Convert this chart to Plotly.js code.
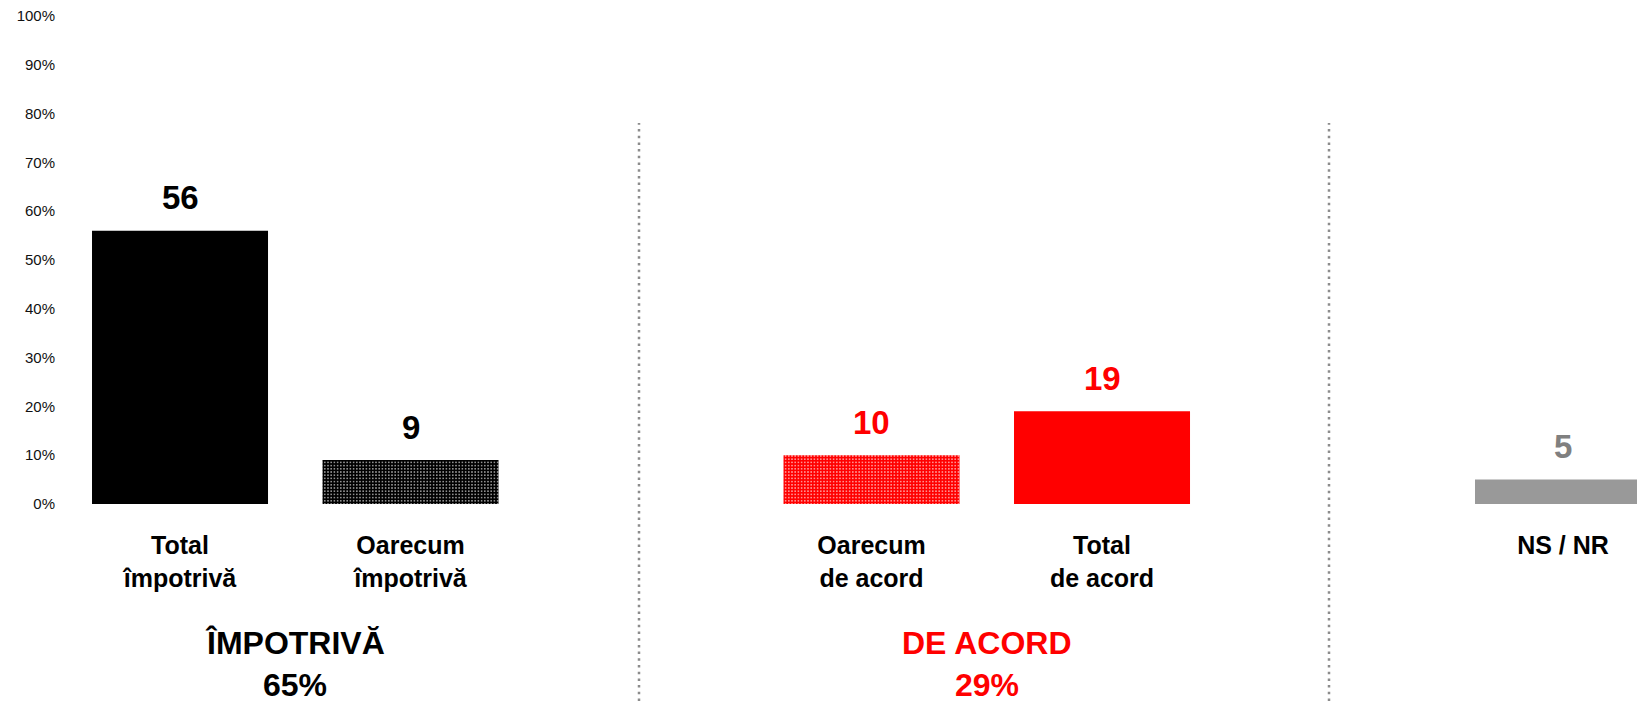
<!DOCTYPE html>
<html>
<head>
<meta charset="utf-8">
<script src="https://cdn.plot.ly/plotly-3.0.1.min.js"></script>
<style>html,body{margin:0;padding:0;background:#fff;}#chart{width:1637px;height:701px;}</style>
</head>
<body>
<div id="chart"></div>
<script>
// ---- data ----
const categories = ['Total<br>împotrivă', 'Oarecum<br>împotrivă', 'Oarecum<br>de acord', 'Total<br>de acord', 'NS / NR'];
const values = [56, 9, 10, 19, 5];
const valueLabels = ['56', '9', '10', '19', '5'];
const groupNames = ['ÎMPOTRIVĂ', 'DE ACORD'];
const groupTotals = ['65%', '29%'];
const yTickValues = [0, 10, 20, 30, 40, 50, 60, 70, 80, 90, 100];
const yTickLabels = ['0%', '10%', '20%', '30%', '40%', '50%', '60%', '70%', '80%', '90%', '100%'];

// ---- styles ----
const barColors = ['#000000', '#000000', '#ff0000', '#ff0000', '#999999'];
const patternShapes = ['', '.', '.', '', ''];
const labelColors = ['#000000', '#000000', '#ff0000', '#ff0000', '#808080'];
const groupColors = ['#000000', '#ff0000'];
const groupCenters = [0.5, 3.5];
const categoryOrder = [categories[0], categories[1], ' ', categories[2], categories[3], '  ', categories[4]];

const W = 1637, H = 701;
const font = 'Arial, "Liberation Sans", sans-serif';

const trace = {
  type: 'bar',
  x: categories,
  y: values,
  width: 0.7636,
  marker: {
    color: barColors,
    line: {width: 0},
    pattern: {
      shape: patternShapes,
      fillmode: 'overlay',
      fgcolor: '#ffffff',
      fgopacity: 0.75,
      size: 3.2,
      solidity: 0.2
    }
  },
  hoverinfo: 'none'
};

const annotations = [];
categories.forEach((c, i) => {
  annotations.push({
    x: c, y: values[i], xref: 'x', yref: 'y',
    text: '<b>' + valueLabels[i] + '</b>',
    showarrow: false, yanchor: 'middle', yshift: 33,
    font: {family: font, size: 33, color: labelColors[i]}
  });
});
groupNames.forEach((g, i) => {
  annotations.push({
    x: groupCenters[i], xref: 'x', y: (H - 643) / H, yref: 'paper',
    text: '<b>' + g + '</b>',
    showarrow: false, yanchor: 'middle',
    font: {family: font, size: 32, color: groupColors[i]}
  });
  annotations.push({
    x: groupCenters[i], xref: 'x', y: (H - 685) / H, yref: 'paper',
    text: '<b>' + groupTotals[i] + '</b>',
    showarrow: false, yanchor: 'middle',
    font: {family: font, size: 32, color: groupColors[i]}
  });
});

const sepY1 = (H - 123) / H;
const shapes = [639, 1329].map(px => ({
  type: 'line', xref: 'paper', yref: 'paper',
  x0: px / W, x1: px / W, y0: 0, y1: sepY1,
  line: {color: '#8c8c8c', width: 2.5, dash: '2.5px,4.2px'}
}));

const layout = {
  width: W, height: H,
  margin: {l: 0, r: 0, t: 0, b: 0},
  paper_bgcolor: '#ffffff', plot_bgcolor: 'rgba(0,0,0,0)',
  showlegend: false,
  xaxis: {
    type: 'category',
    categoryorder: 'array',
    categoryarray: categoryOrder,
    range: [-0.781, 6.321],
    showgrid: false, zeroline: false, showline: false,
    ticks: '',
    ticklabelstandoff: 24,
    tickfont: {family: font, size: 25, color: '#000000', weight: 700},
    fixedrange: true
  },
  yaxis: {
    range: [0, 100],
    domain: [(H - 504) / H, (H - 16) / H],
    anchor: 'free', position: 55 / W,
    tickvals: yTickValues, ticktext: yTickLabels,
    showgrid: false, zeroline: false, showline: false,
    ticks: '',
    tickfont: {family: font, size: 15, color: '#111111'},
    fixedrange: true
  },
  annotations: annotations,
  shapes: shapes
};

Plotly.newPlot('chart', [trace], layout, {displayModeBar: false, staticPlot: true});
</script>
</body>
</html>
